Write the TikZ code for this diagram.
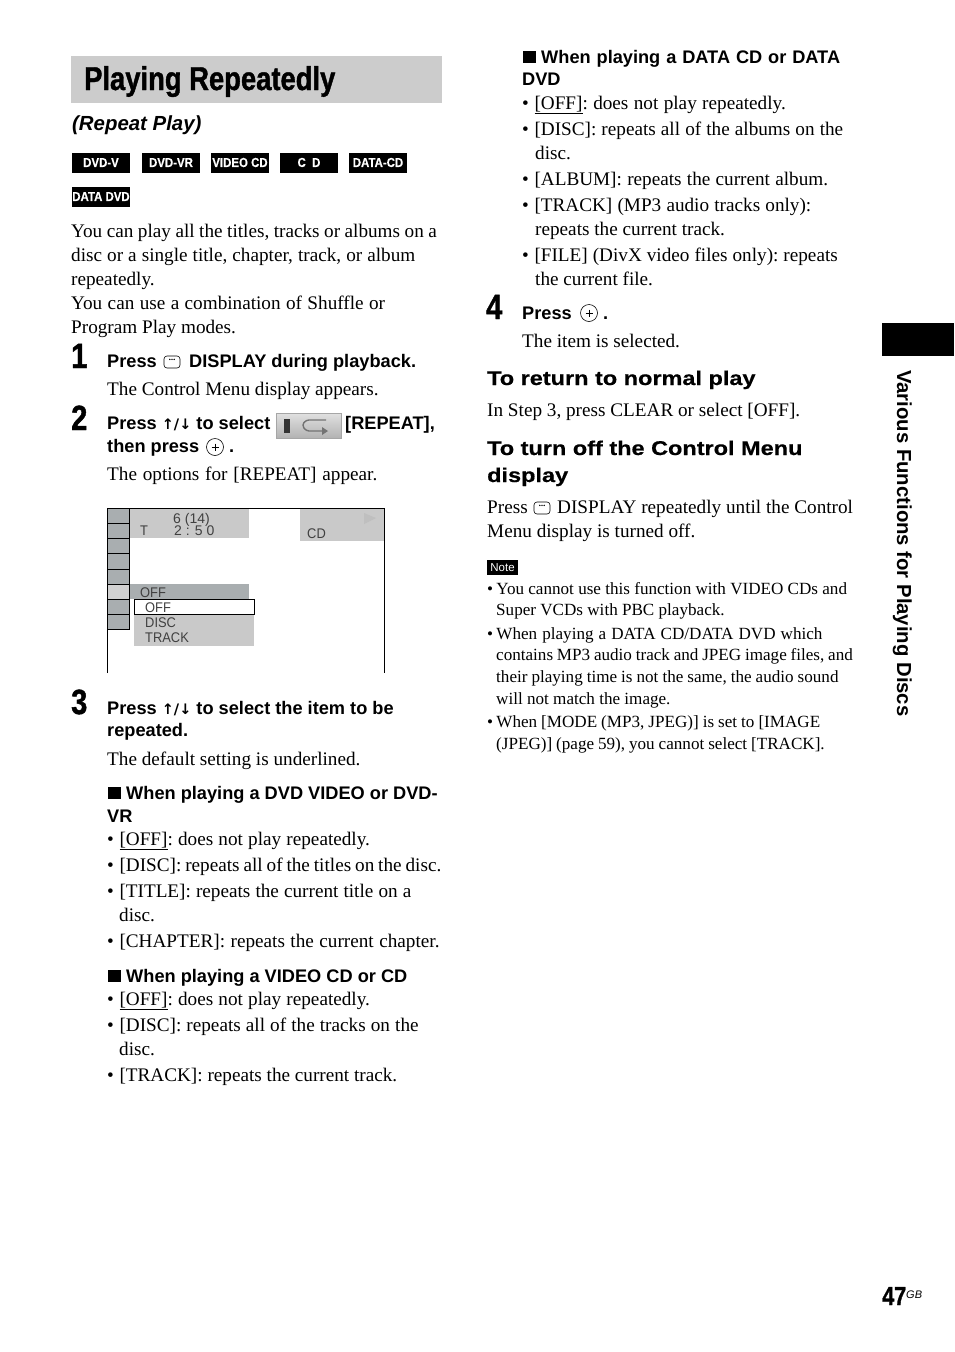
\documentclass[tikz,border=0pt]{standalone}
\usepackage{fontspec}
\setmainfont{Liberation Serif}
\setsansfont{Liberation Sans}
\newfontfamily\titlefont[FakeStretch=0.83,FakeBold=1.2]{Liberation Sans Bold}
\newfontfamily\headfont[FakeStretch=1.18,FakeBold=0.5]{Liberation Sans Bold}
\newfontfamily\iconfont[FakeStretch=0.88,FakeBold=0.4]{Liberation Sans Bold}
\newfontfamily\screenfont[FakeStretch=0.92]{Liberation Sans}
\newfontfamily\arrowfont{DejaVu Sans Bold}
\definecolor{titlegray}{HTML}{CCCCCC}
\definecolor{cellgray}{HTML}{A9AEB0}
\definecolor{paneGray}{HTML}{C9C9C9}
\tikzset{
  body/.style={anchor=base west,inner sep=0,font=\fontsize{19.2}{24}\selectfont\frenchspacing},
  stepline/.style={anchor=base west,inner sep=0,font=\fontsize{18.2}{22}\sffamily\bfseries\selectfont},
  notetext/.style={anchor=base west,inner sep=0,font=\fontsize{17.1}{22}\selectfont\frenchspacing},
  subhead/.style={anchor=base west,inner sep=0,font=\fontsize{19.9}{26}\headfont},
  stepnum/.style={anchor=base west,inner sep=0,font=\fontsize{35}{36}\titlefont},
  screen/.style={anchor=base west,inner sep=0,text=black!75,font=\fontsize{14}{16}\screenfont},
  screenwide/.style={anchor=base west,inner sep=0,text=black!75,font=\fontsize{14}{16}\sffamily\selectfont},
  disc/.style={fill=black,text=white,minimum width=58pt,minimum height=20pt,inner sep=0,font=\fontsize{13}{14}\iconfont},
  gap/.style={execute at begin node={\spaceskip=#1pt\relax}}
}
\def\bul{•\hspace{5.6pt}}
\def\nbul{•\hspace{3.2pt}}
\def\updown{{\fontsize{14.5}{18}\arrowfont ↑/↓}}
\def\displaybtn(#1,#2){\draw[line width=0.6pt,rounded corners=3pt] (#1-8,#2-6) rectangle (#1+8,#2+6);
  \fill (#1-2.2,#2-2.6) circle (0.8) (#1,#2-2.6) circle (0.8) (#1+2.2,#2-2.6) circle (0.8);}
\def\enterbtn(#1,#2){\draw[line width=0.6pt] (#1,#2) circle (8.5);
  \draw[line width=0.5pt] (#1-3.5,#2) -- (#1+3.5,#2) (#1,#2-3.5) -- (#1,#2+3.5);}
\begin{document}
\begin{tikzpicture}[x=1pt,y=-1pt]
	\useasboundingbox (0,0) rectangle (954,1352);
	
	%%%%% heading %%%%%
	\fill[titlegray] (71,56) rectangle (442,103);
	\node[anchor=base west,inner sep=0,font=\fontsize{33}{36}\titlefont] (title) at (84,90) {Playing Repeatedly};
	\node[anchor=base west,inner sep=0,font=\fontsize{20.4}{24}\sffamily\bfseries\itshape\selectfont] (subtitle) at (72,130) {(Repeat Play)};
	
	\foreach \name/\xpos/\ypos/\lab in {dvdv/101/162.5/DVD-V,dvdvr/171/162.5/DVD-VR,vcd/240/162.5/VIDEO CD,cd/309/162.5/C~~D,datacd/378/162.5/DATA-CD,datadvd/101/196.5/DATA DVD}
		\node[disc] (\name) at (\xpos,\ypos) {\lab};
	
	\node[body,gap=4.5] (introa) at (71,237) {You can play all the titles, tracks or albums on a};
	\node[body,gap=5.05] (introb) at (71,261) {disc or a single title, chapter, track, or album};
	\node[body] (introc) at (71,285) {repeatedly.};
	\node[body,gap=5.4] (introd) at (71,309) {You can use a combination of Shuffle or};
	\node[body] (introe) at (71,333) {Program Play modes.};
	
	%%%%% steps 1 and 2 %%%%%
	\node[stepnum] (one) at (71,368) {1};
	\node[stepline] (onea) at (107,367) {Press};
	\displaybtn(172,362)
	\node[stepline] (oneb) at (189,367) {DISPLAY during playback.};
	\node[body] (onec) at (107,395) {The Control Menu display appears.};
	
	\node[stepnum] (two) at (71,430) {2};
	\node[stepline] (twoa) at (107,429) {Press \updown{} to select};
	\shade[top color=black!12,bottom color=black!30,draw=black!35] (276,413) rectangle (341,438);
	\fill[black!80] (284,419) rectangle (290,433);
	\draw[black!55,line width=1.4pt,rounded corners=3pt] (326,420) -- (306,420) -- (302,425) -- (306,431) -- (322,431);
	\fill[black!55] (322,427) -- (328,431) -- (322,435) -- cycle;
	\node[stepline] (twob) at (345,429) {[REPEAT],};
	\node[stepline] (twoc) at (107,452) {then press};
	\enterbtn(215,447)
	\node[stepline] (twod) at (229,452) {.};
	\node[body,gap=5.8] (twoe) at (107,480) {The options for [REPEAT] appear.};
	
	%%%%% control menu screen %%%%%
	\fill[paneGray] (129,508) rectangle (249,538);
	\fill[paneGray] (300,508) rectangle (384,541);
	\fill[black!25] (364,513) -- (376,518) -- (364,524) -- cycle;
	\fill[cellgray] (129,584) rectangle (249,599);
	\fill[paneGray] (134,599) rectangle (254,646);
	\foreach \ya/\yb in {508/523,523/538,538/553,553/569,569/584,599/614,614/629}
		\draw[black,line width=0.6pt,fill=cellgray] (107.5,\ya) rectangle (129,\yb);
	\draw[black,line width=0.6pt,fill=black!18] (107.5,584) rectangle (129,599);
	\draw[black,line width=0.7pt] (107.5,673) -- (107.5,508) -- (384.5,508) -- (384.5,673);
	\draw[fill=white,line width=0.7pt] (134,599.5) rectangle (254.5,614.5);
	\draw[line width=1.2pt] (254.5,599) -- (254.5,615);
	\node[screenwide] (scrtrack) at (173,523) {6 (14)};
	\node[screen] (scrt) at (140,535) {T};
	\node[screenwide] (scrtime) at (174,535) {2 : 5 0};
	\node[screen] (scrcd) at (307,538) {CD};
	\node[screen] (scroff) at (140,597) {OFF};
	\node[screen] (optoff) at (145,612) {OFF};
	\node[screen] (optdisc) at (145,627) {DISC};
	\node[screen] (opttrack) at (145,642) {TRACK};
	
	%%%%% step 3 %%%%%
	\node[stepnum] (three) at (71,714) {3};
	\node[stepline] (threea) at (107,714) {Press \updown{} to select the item to be};
	\node[stepline] (threeb) at (107,736) {repeated.};
	\node[body] (threec) at (107,765) {The default setting is underlined.};
	
	\fill (108,787) rectangle (121,799);
	\node[stepline] (dvda) at (126,799) {When playing a DVD VIDEO or DVD-};
	\node[stepline] (dvdb) at (107,822) {VR};
	\node[body,gap=5.2] (dvdc) at (107,845) {\bul\underline{[OFF]}: does not play repeatedly.};
	\node[body,gap=3.9] (dvdd) at (107,871) {\bul[DISC]: repeats all of the titles on the disc.};
	\node[body,gap=5.1] (dvde) at (107,897) {\bul[TITLE]: repeats the current title on a};
	\node[body] (dvdf) at (119,921) {disc.};
	\node[body,gap=5.5] (dvdg) at (107,947) {\bul[CHAPTER]: repeats the current chapter.};
	
	\fill (108,970) rectangle (121,982);
	\node[stepline] (vcda) at (126,982) {When playing a VIDEO CD or CD};
	\node[body,gap=5.2] (vcdb) at (107,1005) {\bul\underline{[OFF]}: does not play repeatedly.};
	\node[body,gap=5.1] (vcdc) at (107,1031) {\bul[DISC]: repeats all of the tracks on the};
	\node[body] (vcdd) at (119,1055) {disc.};
	\node[body] (vcde) at (107,1081) {\bul[TRACK]: repeats the current track.};
	
	%%%%% right column %%%%%
	\fill (523,51) rectangle (536,63);
	\node[stepline,gap=5.9] (dataa) at (541,63) {When playing a DATA CD or DATA};
	\node[stepline] (datab) at (522,85) {DVD};
	\node[body,gap=5.4] (datac) at (522,109) {\bul\underline{[OFF]}: does not play repeatedly.};
	\node[body,gap=5.1] (datad) at (522,135) {\bul[DISC]: repeats all of the albums on the};
	\node[body] (datae) at (535,159) {disc.};
	\node[body,gap=5.3] (dataf) at (522,185) {\bul[ALBUM]: repeats the current album.};
	\node[body,gap=5.2] (datag) at (522,211) {\bul[TRACK] (MP3 audio tracks only):};
	\node[body] (datah) at (535,235) {repeats the current track.};
	\node[body,gap=5.0] (datai) at (522,261) {\bul[FILE] (DivX video files only): repeats};
	\node[body] (dataj) at (535,285) {the current file.};
	
	\node[stepnum] (four) at (486,319) {4};
	\node[stepline] (foura) at (522,319) {Press};
	\enterbtn(589,313)
	\node[stepline] (fourb) at (603,319) {.};
	\node[body] (fourc) at (522,347) {The item is selected.};
	
	\node[subhead] (normal) at (487,385) {To return to normal play};
	\node[body] (normalb) at (487,416) {In Step 3, press CLEAR or select [OFF].};
	
	\node[subhead] (turnoff) at (487,455) {To turn off the Control Menu};
	\node[subhead] (turnoffb) at (487,482) {display};
	\node[body] (turnoffc) at (487,513) {Press};
	\displaybtn(542,508)
	\node[body] (turnoffd) at (557,513) {DISPLAY repeatedly until the Control};
	\node[body] (turnoffe) at (487,537) {Menu display is turned off.};
	
	%%%%% note %%%%%
	\node[fill=black,text=white,minimum width=31pt,minimum height=15pt,inner sep=0,font=\fontsize{11.5}{12}\sffamily\selectfont] (note) at (502.5,567.5) {Note};
	\node[notetext] (notea) at (487,594) {\nbul You cannot use this function with VIDEO CDs and};
	\node[notetext] (noteb) at (496,615) {Super VCDs with PBC playback.};
	\node[notetext,gap=5.1] (notec) at (487,639) {\nbul When playing a DATA CD/DATA DVD which};
	\node[notetext,gap=3.8] (noted) at (496,660) {contains MP3 audio track and JPEG image files, and};
	\node[notetext,gap=4.0] (notee) at (496,682) {their playing time is not the same, the audio sound};
	\node[notetext] (notef) at (496,704) {will not match the image.};
	\node[notetext,gap=4.0] (noteg) at (487,727) {\nbul When [MODE (MP3, JPEG)] is set to [IMAGE};
	\node[notetext,gap=3.95] (noteh) at (496,749) {(JPEG)] (page 59), you cannot select [TRACK].};
	
	%%%%% side tab and page number %%%%%
	\fill (882,323) rectangle (954,356);
	\node[anchor=base west,inner sep=0,rotate=-90,font=\fontsize{20.3}{24}\sffamily\bfseries\selectfont] (sidetab) at (897,370) {Various Functions for Playing Discs};
	\node[anchor=base west,inner sep=0,font=\fontsize{26}{28}\titlefont] (pagenum) at (882,1305) {47};
	\node[anchor=base west,inner sep=0,font=\fontsize{11}{14}\sffamily\itshape\selectfont] (pagegb) at (906,1298) {GB};
\end{tikzpicture}
\end{document}
